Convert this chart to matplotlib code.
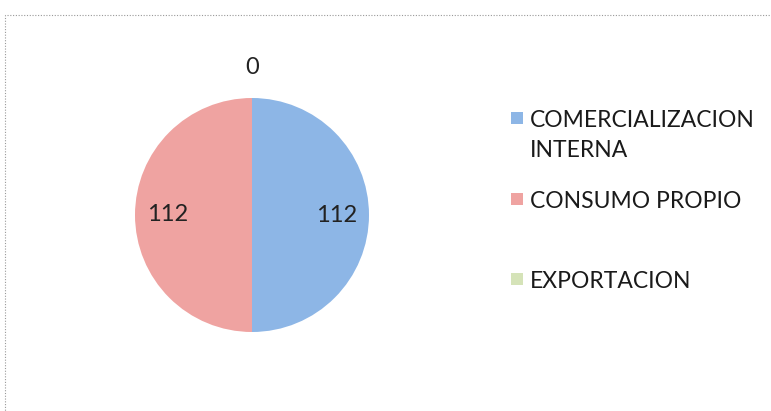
import numpy as np
import matplotlib.pyplot as plt
from matplotlib.patches import Rectangle

# datos del grafico
categorias = ['COMERCIALIZACION\nINTERNA', 'CONSUMO PROPIO', 'EXPORTACION']
valores = [112, 112, 0]
colores = ['#8DB6E6', '#EFA3A1', '#D5E3B8']

plt.rcParams['font.family'] = ['Lato', 'DejaVu Sans']

W, H = 771, 411
fig = plt.figure(figsize=(W / 100, H / 100), dpi=100)

# marco punteado del grafico
fig.patches.append(Rectangle((5 / W, -0.05), 1.1, 1.05 - 15 / H,
                             transform=fig.transFigure, fill=False,
                             edgecolor='#999999', linewidth=0.8,
                             linestyle=(0, (1, 1.5))))

cx, cy, r = 252, 215, 117
ax = fig.add_axes([(cx - r) / W, 1 - (cy + r) / H, 2 * r / W, 2 * r / H])
wedges, _ = ax.pie(valores, colors=colores, startangle=90, counterclock=False,
                   radius=1.0, wedgeprops=dict(linewidth=0))
ax.set_xlim(-1, 1)
ax.set_ylim(-1, 1)
ax.set_aspect('equal')

# etiquetas de valores
for w, v in zip(wedges, valores):
    ang = np.deg2rad((w.theta1 + w.theta2) / 2)
    d = 1.26 if v == 0 else 0.72
    ax.text(d * np.cos(ang), d * np.sin(ang), str(v), ha='center', va='center',
            fontsize=17, color='#222222', clip_on=False)

# leyenda (posicion vertical de cada entrada, en pixeles desde arriba)
leg_y = [118, 199, 279]
for cat, col, y in zip(categorias, colores, leg_y):
    fig.patches.append(Rectangle((511 / W, 1 - (y + 6) / H), 12 / W, 12 / H,
                                 transform=fig.transFigure, facecolor=col,
                                 edgecolor='none'))
    fig.text(530 / W, 1 - (y - 8.5) / H, cat, ha='left', va='top', fontsize=16.5,
             color='#1a1a1a', linespacing=1.58)

fig.savefig('out.png', dpi=100)
